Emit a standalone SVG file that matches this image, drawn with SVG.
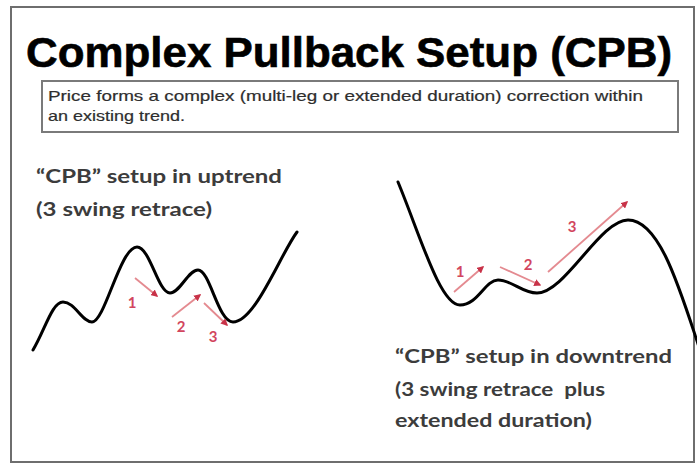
<svg xmlns="http://www.w3.org/2000/svg" width="697" height="464" viewBox="0 0 697 464">
<style>
.frame{fill:#fff;stroke:#6e6e6e;stroke-width:2}
.box{fill:#fff;stroke:#7a7a7a;stroke-width:2}
.title{font-family:"Liberation Sans",Arial,sans-serif;font-weight:700;font-size:42px;fill:#000;stroke:#000;stroke-width:0.6}
.sub{font-family:"Liberation Sans",Arial,sans-serif;font-size:14.5px;fill:#2e2e2e;stroke:#2e2e2e;stroke-width:0.2}
.cap{font-family:Lato,"Open Sans",sans-serif;font-weight:700;font-size:18px;fill:#3c3c3c}
.curve{fill:none;stroke:#000;stroke-width:3;stroke-linecap:round;stroke-linejoin:round}
.arr{fill:none;stroke:#e48a90;stroke-width:1.8;marker-end:url(#ah)}
.num{font-family:Lato,"Open Sans",sans-serif;font-weight:700;font-size:15px;fill:#d2465e;text-anchor:middle}
</style>
<defs>
<marker id="ah" viewBox="0 0 10 10" refX="8" refY="5" markerWidth="4" markerHeight="4" orient="auto" markerUnits="strokeWidth">
<path d="M0,0 L10,5 L0,10 z" fill="#c83248"/>
</marker>
</defs>
<rect x="0" y="0" width="697" height="464" fill="#fff"/>
<rect class="frame" x="11" y="7" width="683" height="455"/>
<g id="title">
<text class="title" x="26" y="67" textLength="646" lengthAdjust="spacingAndGlyphs">Complex Pullback Setup (CPB)</text>
</g>
<g id="description">
<rect class="box" x="42" y="81" width="636" height="51"/>
<text class="sub" x="48" y="101" textLength="595" lengthAdjust="spacingAndGlyphs">Price forms a complex (multi-leg or extended duration) correction within</text>
<text class="sub" x="48" y="121" textLength="137" lengthAdjust="spacingAndGlyphs">an existing trend.</text>
</g>
<g id="uptrend">
<text class="cap" x="36" y="183" textLength="246" lengthAdjust="spacingAndGlyphs">“CPB” setup in uptrend</text>
<text class="cap" x="36" y="216" textLength="176" lengthAdjust="spacingAndGlyphs">(3 swing retrace)</text>
<path class="curve" d="M33,350 C45,330 52,302 63,302 C75,302 82,322 92,322 C105,322 120,247 137,247 C150,247 158,293 170,293 C180,293 188,270 198,270 C210,270 218,322 233,322 C255,322 280,255 297,232"/>
</g>
<g id="downtrend">
<text class="cap" x="395" y="363" textLength="277" lengthAdjust="spacingAndGlyphs">“CPB” setup in downtrend</text>
<text class="cap" x="395" y="396" textLength="210" lengthAdjust="spacingAndGlyphs" xml:space="preserve">(3 swing retrace  plus</text>
<text class="cap" x="395" y="427" textLength="197" lengthAdjust="spacingAndGlyphs">extended duration)</text>
<path class="curve" d="M398,182 C420,235 440,305 460,305 C478,305 485,280 498,280 C512,280 522,293 537,293 C565,293 600,220 628,220 C660,220 680,290 700,350"/>
</g>
<g id="connectors">
<line class="arr" x1="135" y1="278" x2="157" y2="296"/>
<line class="arr" x1="172" y1="317" x2="200" y2="295"/>
<line class="arr" x1="204" y1="303" x2="227" y2="325"/>
<line class="arr" x1="454" y1="292" x2="483" y2="267"/>
<line class="arr" x1="500" y1="267" x2="540" y2="285"/>
<line class="arr" x1="548" y1="272" x2="627" y2="202"/>
</g>
<g id="labels">
<text class="num" x="132" y="308">1</text>
<text class="num" x="181" y="332">2</text>
<text class="num" x="213" y="342">3</text>
<text class="num" x="460" y="277">1</text>
<text class="num" x="528" y="270">2</text>
<text class="num" x="572" y="232">3</text>
</g>
</svg>
